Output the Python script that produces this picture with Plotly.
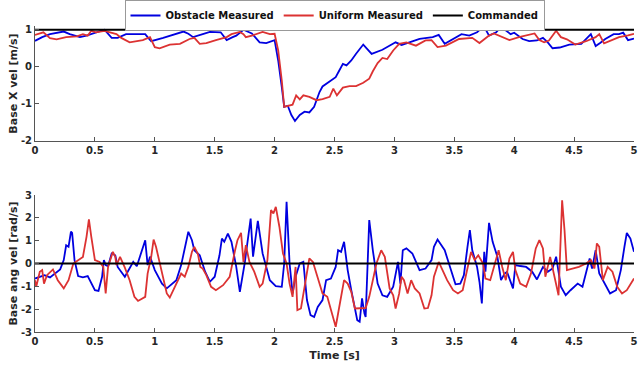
import plotly.graph_objects as go

# ---------------- data ----------------
t_top_obs = [0, 0.06, 0.125, 0.24, 0.29, 0.375, 0.43, 0.51, 0.58, 0.64, 0.69, 0.76, 0.92, 0.94, 0.97,
             1.07, 1.18, 1.24, 1.28, 1.32, 1.40, 1.46, 1.55, 1.60, 1.65, 1.68, 1.74, 1.78, 1.81, 1.875,
             1.93, 2.00, 2.03, 2.06, 2.08, 2.11, 2.14, 2.17, 2.21, 2.25, 2.29, 2.33, 2.375, 2.40, 2.46,
             2.51, 2.54, 2.57, 2.60, 2.64, 2.68, 2.74, 2.81, 2.90, 3.01, 3.06, 3.125, 3.21, 3.32, 3.37,
             3.42, 3.49, 3.56, 3.625, 3.69, 3.74, 3.76, 3.79, 3.85, 3.89, 3.93, 3.97, 4.00, 4.07, 4.125,
             4.19, 4.24, 4.28, 4.32, 4.38, 4.46, 4.56, 4.64, 4.68, 4.72, 4.76, 4.83, 4.875, 4.91, 4.95, 5.00]
v_top_obs = [0.70, 0.80, 0.88, 0.95, 0.88, 0.80, 0.84, 0.93, 1.00, 0.78, 0.78, 0.88, 0.88, 0.80, 0.69,
             0.78, 0.88, 0.95, 0.89, 0.80, 0.88, 0.94, 0.93, 0.72, 0.80, 0.84, 1.00, 0.93, 0.90, 0.66,
             0.64, 0.72, 0.17, -0.55, -1.08, -1.05, -1.30, -1.46, -1.30, -1.21, -1.23, -1.08, -0.68, -0.53, -0.39,
             -0.28, -0.10, 0.08, 0.04, 0.17, 0.35, 0.60, 0.35, 0.46, 0.66, 0.59, 0.66, 0.75, 0.80, 0.86,
             0.62, 0.75, 0.88, 0.84, 0.93, 1.08, 1.02, 0.84, 0.93, 1.08, 0.97, 0.88, 0.92, 0.75, 0.69,
             0.71, 0.78, 0.66, 0.50, 0.52, 0.60, 0.62, 0.88, 0.56, 0.65, 0.75, 0.88, 0.88, 0.92, 0.72, 0.76]

t_top_uni = [0, 0.07, 0.125, 0.18, 0.26, 0.35, 0.40, 0.44, 0.47, 0.51, 0.58, 0.68, 0.72, 0.79, 0.90,
             0.96, 1.00, 1.04, 1.125, 1.21, 1.29, 1.33, 1.375, 1.43, 1.51, 1.60, 1.64, 1.71, 1.74, 1.76,
             1.81, 1.85, 1.90, 1.96, 2.00, 2.03, 2.06, 2.08, 2.12, 2.15, 2.18, 2.21, 2.24, 2.29, 2.35,
             2.40, 2.46, 2.49, 2.52, 2.57, 2.625, 2.68, 2.74, 2.79, 2.82, 2.86, 2.90, 2.94, 2.99, 3.04,
             3.10, 3.18, 3.26, 3.31, 3.36, 3.43, 3.54, 3.65, 3.71, 3.79, 3.83, 3.90, 3.96, 4.04, 4.14,
             4.17, 4.21, 4.25, 4.29, 4.35, 4.39, 4.44, 4.51, 4.60, 4.68, 4.71, 4.75, 4.80, 4.875, 4.95, 5.00]
v_top_uni = [0.86, 0.93, 0.77, 0.74, 0.80, 0.82, 0.88, 0.84, 0.97, 0.93, 0.97, 0.88, 0.78, 0.66, 0.72,
             0.80, 0.53, 0.50, 0.60, 0.62, 0.75, 0.78, 0.62, 0.64, 0.72, 0.80, 0.88, 0.94, 0.88, 0.80,
             0.84, 0.88, 0.94, 0.88, 0.89, 0.44, -0.37, -1.08, -1.05, -1.02, -0.77, -0.88, -0.77, -0.81, -0.90,
             -0.87, -0.81, -0.59, -0.77, -0.56, -0.52, -0.52, -0.43, -0.32, -0.12, 0.10, 0.24, 0.21, 0.44, 0.62,
             0.66, 0.57, 0.71, 0.72, 0.53, 0.57, 0.75, 0.78, 0.64, 0.84, 0.90, 0.80, 0.72, 0.80, 0.87,
             0.90, 0.72, 0.66, 0.71, 0.97, 0.80, 0.74, 0.60, 0.69, 0.80, 0.88, 0.63, 0.69, 0.80, 0.85, 0.89]

t_cmd = [0, 5]
v_cmd_lin = [1, 1]
v_cmd_ang = [0, 0]

t_bot_obs = [0, 0.04, 0.08, 0.125, 0.17, 0.21, 0.24, 0.26, 0.28, 0.30, 0.31, 0.33, 0.36, 0.40, 0.44,
             0.50, 0.53, 0.56, 0.575, 0.59, 0.61, 0.64, 0.67, 0.69, 0.75, 0.79, 0.82, 0.85, 0.89, 0.92,
             0.94, 0.96, 1.00, 1.06, 1.10, 1.18, 1.22, 1.25, 1.28, 1.31, 1.33, 1.375, 1.42, 1.46, 1.50,
             1.54, 1.56, 1.58, 1.61, 1.64, 1.68, 1.71, 1.75, 1.80, 1.82, 1.86, 1.90, 1.96, 2.01, 2.06,
             2.08, 2.10, 2.125, 2.15, 2.175, 2.21, 2.24, 2.27, 2.30, 2.33, 2.36, 2.40, 2.43, 2.47, 2.51,
             2.53, 2.555, 2.58, 2.61, 2.64, 2.67, 2.69, 2.71, 2.73, 2.75, 2.76, 2.79, 2.82, 2.86, 2.90,
             2.94, 2.99, 3.03, 3.05, 3.07, 3.10, 3.15, 3.21, 3.26, 3.31, 3.33, 3.36, 3.42, 3.47, 3.51,
             3.55, 3.58, 3.61, 3.63, 3.65, 3.69, 3.71, 3.73, 3.75, 3.76, 3.79, 3.82, 3.86, 3.89, 3.92,
             3.94, 3.99, 4.01, 4.05, 4.10, 4.15, 4.19, 4.24, 4.28, 4.32, 4.35, 4.39, 4.43, 4.47, 4.53,
             4.57, 4.61, 4.63, 4.65, 4.68, 4.71, 4.75, 4.80, 4.85, 4.89, 4.92, 4.94, 4.97, 5.00]
v_bot_obs = [-0.66, -0.58, -0.51, -0.61, -0.44, -0.26, 0.15, 0.80, 0.73, 1.39, 1.34, 0.15, -0.55, -0.61, -0.55,
             -1.17, -1.20, -0.58, 0.15, -0.07, -0.12, 0.44, 0.36, -0.15, -0.58, -0.22, 0.07, -0.12, 0.58, 1.02,
             -0.07, 0.30, -0.29, -0.88, -1.09, -0.73, -0.07, 0.73, 1.39, 1.02, 0.58, 0.36, -0.36, -0.80, -0.58,
             0.36, 1.09, 0.95, 1.31, 0.95, -0.15, -1.24, 0.00, 1.97, 0.30, 1.87, 0.44, -0.73, -0.99, -1.02,
             0.00, 2.70, 0.00, -1.31, -0.58, 0.00, 0.07, -1.60, -2.26, -2.34, -1.90, -1.60, -0.73, -0.66, -0.15,
             0.58, 0.51, 0.95, -0.29, -1.17, -1.90, -2.48, -2.55, -1.53, -2.19, -2.34, 1.90, 0.58, -0.88, -1.39,
             -1.46, -1.02, 0.07, -0.88, 0.58, 0.66, 0.44, -0.29, -0.22, 0.15, 0.73, 1.05, 0.58, -0.29, -0.91,
             -0.88, -0.51, 0.73, 1.46, 0.58, -0.15, -0.80, -1.75, 0.51, -0.36, 1.78, 0.95, 0.29, -0.73, -0.44,
             -0.37, -1.09, -0.07, -0.11, -0.15, -0.36, -0.70, -0.15, -0.36, -0.22, 0.30, -1.02, -1.39, -1.17, -0.88,
             -1.02, -0.15, 0.22, -0.22, 0.58, -0.44, -0.80, -1.31, -1.17, -0.29, 0.73, 1.34, 1.09, 0.51]

t_bot_uni = [0, 0.01, 0.04, 0.06, 0.075, 0.10, 0.15, 0.19, 0.24, 0.28, 0.32, 0.36, 0.40, 0.43, 0.45,
             0.47, 0.50, 0.54, 0.57, 0.59, 0.61, 0.65, 0.67, 0.68, 0.71, 0.75, 0.79, 0.83, 0.86, 0.92,
             0.94, 0.97, 0.99, 1.01, 1.06, 1.10, 1.125, 1.18, 1.22, 1.25, 1.28, 1.31, 1.33, 1.36, 1.38,
             1.40, 1.43, 1.47, 1.51, 1.57, 1.625, 1.67, 1.69, 1.72, 1.74, 1.76, 1.79, 1.83, 1.875, 1.90,
             1.94, 1.97, 1.99, 2.01, 2.04, 2.07, 2.10, 2.125, 2.15, 2.175, 2.19, 2.22, 2.26, 2.29, 2.32,
             2.36, 2.40, 2.44, 2.47, 2.51, 2.53, 2.555, 2.58, 2.61, 2.64, 2.67, 2.71, 2.76, 2.79, 2.85,
             2.89, 2.92, 2.96, 2.99, 3.01, 3.04, 3.06, 3.08, 3.11, 3.14, 3.17, 3.21, 3.25, 3.28, 3.31,
             3.33, 3.37, 3.40, 3.44, 3.49, 3.53, 3.57, 3.61, 3.64, 3.67, 3.70, 3.74, 3.76, 3.80, 3.83,
             3.87, 3.90, 3.93, 3.96, 3.99, 4.01, 4.05, 4.10, 4.14, 4.18, 4.21, 4.24, 4.26, 4.30, 4.33,
             4.37, 4.40, 4.42, 4.44, 4.49, 4.54, 4.60, 4.64, 4.67, 4.69, 4.71, 4.74, 4.78, 4.82, 4.86,
             4.90, 4.94, 5.00]
v_bot_uni = [-0.73, -1.02, -0.36, -0.29, -0.88, -0.51, -0.26, -0.73, -1.09, -0.73, 0.00, 0.15, 0.29, 1.17, 1.93,
             1.17, 0.15, 0.07, -0.15, -1.31, -0.15, 0.51, 0.29, -0.07, 0.29, -0.18, -0.73, -1.46, -1.64, -1.46,
             -0.44, 0.29, 1.05, 0.73, -0.44, -1.31, -1.49, -0.88, -0.44, -0.58, -0.15, 0.51, 0.73, 0.41, -0.15,
             -0.22, -0.51, -1.02, -1.17, -0.95, -0.58, 0.58, 1.02, 1.34, 0.07, 0.80, 0.07, -0.36, -1.02, -0.88,
             0.15, 2.34, 2.19, 2.48, 1.61, 0.44, 0.00, -0.88, -1.46, -0.15, -2.04, -1.97, -0.73, 0.22, 0.07,
             -0.58, -1.31, -1.46, -2.04, -2.77, -2.19, -1.46, -0.73, -0.88, -1.24, -1.97, -1.97, -1.95, -1.46, 0.00,
             0.58, 0.29, -1.09, -1.39, -1.97, -1.31, -0.58, -0.73, -1.31, -0.73, -1.09, -1.31, -1.97, -1.95, -1.39,
             -0.58, 0.07, -0.29, -0.73, -1.17, -1.31, -1.17, -0.15, 0.51, 0.15, 0.36, 0.00, -0.66, -0.73, -0.15,
             0.58, -0.15, -0.73, 0.22, 0.51, -0.29, -0.88, -1.02, -0.44, 0.66, 1.02, 0.66, -0.58, 0.29, -0.44,
             -1.39, 2.77, 1.46, -0.29, -0.22, -0.15, 0.00, 0.15, -0.22, 0.88, 0.73, -0.73, -0.15, -0.36, -1.02,
             -1.31, -1.17, -0.66]

x_ticks = [0, 0.5, 1, 1.5, 2, 2.5, 3, 3.5, 4, 4.5, 5]
x_tick_text = ["0", "0.5", "1", "1.5", "2", "2.5", "3", "3.5", "4", "4.5", "5"]
y_top_ticks = [-2, -1, 0, 1]
y_top_text = ["-2", "-1", "0", "1"]
y_bot_ticks = [-3, -2, -1, 0, 1, 2, 3]
y_bot_text = ["-3", "-2", "-1", "0", "1", "2", "3"]

# ---------------- figure ----------------
BLUE = "#0000e0"
RED = "#dc3232"
BLACK = "#000000"
FONT = "DejaVu Sans"
TXT = "#262626"

fig = go.Figure()
fig.add_trace(go.Scatter(x=t_top_obs, y=v_top_obs, mode="lines", name="Obstacle Measured",
                         line=dict(color=BLUE, width=1.8), xaxis="x", yaxis="y"))
fig.add_trace(go.Scatter(x=t_top_uni, y=v_top_uni, mode="lines", name="Uniform Measured",
                         line=dict(color=RED, width=1.8), xaxis="x", yaxis="y"))
fig.add_trace(go.Scatter(x=t_cmd, y=v_cmd_lin, mode="lines", name="Commanded",
                         line=dict(color=BLACK, width=1.9), xaxis="x", yaxis="y"))
fig.add_trace(go.Scatter(x=t_bot_obs, y=v_bot_obs, mode="lines", showlegend=False,
                         line=dict(color=BLUE, width=1.8), xaxis="x2", yaxis="y2"))
fig.add_trace(go.Scatter(x=t_bot_uni, y=v_bot_uni, mode="lines", showlegend=False,
                         line=dict(color=RED, width=1.8), xaxis="x2", yaxis="y2"))
fig.add_trace(go.Scatter(x=t_cmd, y=v_cmd_ang, mode="lines", showlegend=False,
                         line=dict(color=BLACK, width=1.9), xaxis="x2", yaxis="y2"))

axis_common = dict(showline=True, linecolor="#555555", linewidth=1, ticks="inside", ticklen=4,
                   tickcolor="#555555", showgrid=False, zeroline=False, mirror=False,
                   tickfont=dict(family=FONT, size=10, color=TXT, weight="bold"))
title_font = dict(family=FONT, size=11, color=TXT, weight="bold")

fig.update_layout(
    width=640, height=380,
    margin=dict(l=35, r=6, t=26, b=48, autoexpand=False),
    paper_bgcolor="white", plot_bgcolor="white",
    font=dict(family=FONT, size=10, color=TXT),
    xaxis=dict(domain=[0, 1], range=[0, 5], anchor="y", tickvals=x_ticks, ticktext=x_tick_text,
               **axis_common),
    yaxis=dict(domain=[0.6242, 1], range=[-2, 1.1], anchor="x", tickvals=y_top_ticks, ticktext=y_top_text,
               title=dict(text="Base X vel [m/s]", standoff=1, font=title_font),
               **axis_common),
    xaxis2=dict(domain=[0, 1], range=[0, 5], anchor="y2", tickvals=x_ticks, ticktext=x_tick_text,
                title=dict(text="Time [s]", standoff=5, font=title_font),
                **axis_common),
    yaxis2=dict(domain=[0, 0.4477], range=[-3, 3], anchor="x2", tickvals=y_bot_ticks, ticktext=y_bot_text,
                title=dict(text="Base ang vel [rad/s]", standoff=1, font=title_font),
                **axis_common),
    legend=dict(orientation="h", x=0.5, xanchor="center", y=1.085, yanchor="top",
                bgcolor="white", bordercolor="#999999", borderwidth=1,
                font=dict(family=FONT, size=10, color="#111111", weight="bold"),
                itemwidth=30, tracegroupgap=0),
    showlegend=True,
)

fig.write_html("out.html",
               config={"displayModeBar": False},
               post_script="document.body.style.margin='0';document.body.style.padding='0';")
